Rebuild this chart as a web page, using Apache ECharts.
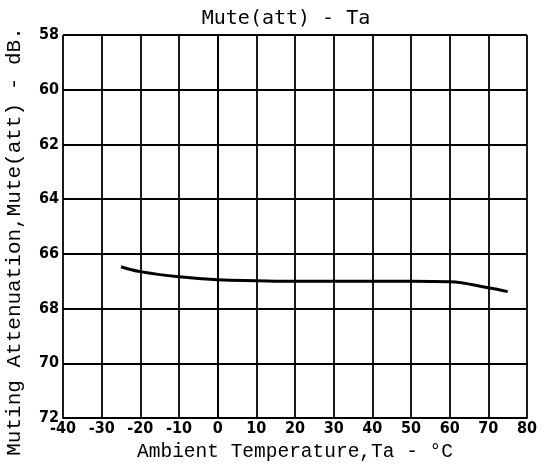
<!DOCTYPE html>
<html>
<head>
<meta charset="utf-8">
<script src="https://cdn.jsdelivr.net/npm/echarts@6/dist/echarts.min.js"></script>
<style>
  html, body { margin: 0; padding: 0; background: #fff; }
  #chart { width: 547px; height: 464px; }
</style>
</head>
<body>
<div id="chart"></div>
<script>
// Muting attenuation versus ambient temperature
const temps = [-25, -20, -10, 0, 10, 20, 30, 40, 50, 60, 70, 75];
const muteAtt = [66.47, 66.65, 66.84, 66.95, 66.98, 67.0, 67.0, 67.0, 67.0, 67.02, 67.24, 67.38];
const xTicks = [-40, -30, -20, -10, 0, 10, 20, 30, 40, 50, 60, 70, 80];
const yTicks = [58, 60, 62, 64, 66, 68, 70, 72];

const chart = echarts.init(document.getElementById('chart'));
const gridLine = { show: true, lineStyle: { color: '#000', width: 1.8 } };
const tickFont = {
  color: '#000',
  fontFamily: '"DejaVu Sans Condensed", "DejaVu Sans"',
  fontWeight: 'bold',
  fontSize: 16
};

chart.setOption({
  animation: false,
  backgroundColor: '#fff',
  title: {
    text: 'Mute(att) - Ta',
    left: 281, top: 4, textAlign: 'center',
    textStyle: { fontFamily: 'DejaVu Sans Mono', fontWeight: 'normal', fontSize: 20, color: '#000' }
  },
  grid: { left: 63, right: 20, top: 35, bottom: 46, outerBoundsMode: 'none', containLabel: false },
  xAxis: {
    type: 'value',
    min: xTicks[0], max: xTicks[xTicks.length - 1], interval: 10,
    name: 'Ambient Temperature,Ta - °C',
    nameLocation: 'middle', nameGap: 21,
    nameTextStyle: { fontFamily: 'Liberation Mono', fontSize: 19.5, color: '#000' },
    axisLine: { show: true, lineStyle: { color: '#000', width: 1.8 } },
    axisTick: { show: false },
    axisLabel: Object.assign({ margin: 3 }, tickFont),
    splitLine: gridLine
  },
  yAxis: {
    type: 'value',
    inverse: true,
    min: yTicks[0], max: yTicks[yTicks.length - 1], interval: 2,
    name: 'Muting Attenuation,Mute(att) - dB.',
    nameLocation: 'middle', nameGap: 38, nameRotate: 90,
    nameTextStyle: { fontFamily: 'Liberation Mono', fontSize: 21, color: '#000', padding: [0, 30, 0, 0] },
    axisLine: { show: true, lineStyle: { color: '#000', width: 1.8 } },
    axisTick: { show: false },
    axisLabel: Object.assign({ margin: 4 }, tickFont),
    splitLine: gridLine
  },
  series: [{
    type: 'line',
    data: temps.map((t, i) => [t, muteAtt[i]]),
    smooth: 0.4,
    showSymbol: false,
    lineStyle: { color: '#000', width: 3 }
  }]
});
</script>
</body>
</html>
